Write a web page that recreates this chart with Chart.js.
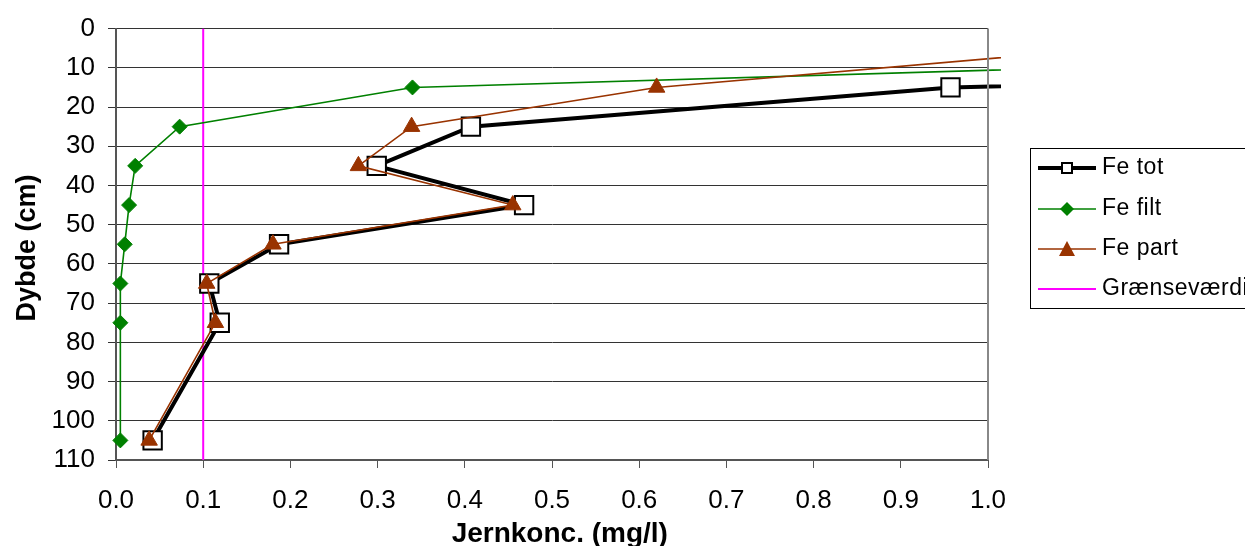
<!DOCTYPE html>
<html>
<head>
<meta charset="utf-8">
<title>Jernkoncentration</title>
<script src="https://cdn.jsdelivr.net/npm/chart.js@4/dist/chart.umd.min.js"></script>
<style>
  html, body { margin: 0; padding: 0; background: #fff; }
  canvas { display: block; }
</style>
</head>
<body>
<canvas id="chart" width="1245" height="546"></canvas>
<script>
// Depth profile (cm) and iron concentrations (mg/l)
const depths = [5, 15, 25, 35, 45, 55, 65, 75, 105];
const feTot  = [2.99, 0.957, 0.407, 0.299, 0.468, 0.187, 0.107, 0.119, 0.042];
const feFilt = [1.85, 0.34, 0.073, 0.022, 0.015, 0.010, 0.005, 0.005, 0.005];
const fePart = [1.14, 0.62, 0.339, 0.278, 0.455, 0.180, 0.104, 0.114, 0.038];

// Limit value line
const limitValue = 0.1;
const limitDepths = [0, 110];

const seriesNames = ['Fe tot', 'Fe filt', 'Fe part', 'Grænseværdi'];

const FONT = "'Liberation Sans', Arial, sans-serif";

function toPoints(xs, ys) {
  return ys.map((y, i) => ({ x: xs[i], y }));
}

// Legend drawn in its own framed box to the right of the plot
const boxedLegend = {
  id: 'boxedLegend',
  afterDraw(chart) {
    const ctx = chart.ctx;
    const left = 1030, top = 148, bottom = 308;
    ctx.save();
    ctx.strokeStyle = '#000';
    ctx.lineWidth = 1;
    ctx.strokeRect(left + 0.5, top + 0.5, 260, bottom - top);

    const rowY = [168, 209, 249, 289];
    chart.data.datasets.forEach((ds, i) => {
      const y = rowY[i];
      ctx.strokeStyle = ds.borderColor;
      ctx.lineWidth = ds.legendLineWidth;
      ctx.beginPath();
      ctx.moveTo(1038, y);
      ctx.lineTo(1096, y);
      ctx.stroke();

      const cx = 1067;
      ctx.fillStyle = ds.pointBackgroundColor;
      ctx.strokeStyle = ds.pointBorderColor;
      ctx.lineWidth = ds.pointBorderWidth;
      ctx.beginPath();
      if (ds.pointStyle === 'rect' && ds.pointRadius > 0) {
        ctx.rect(cx - 5, y - 5, 10, 10);
        ctx.fill();
        ctx.stroke();
      } else if (ds.pointStyle === 'rectRot') {
        ctx.moveTo(cx - 7, y);
        ctx.lineTo(cx, y - 7);
        ctx.lineTo(cx + 7, y);
        ctx.lineTo(cx, y + 7);
        ctx.closePath();
        ctx.fill();
      } else if (ds.pointStyle === 'triangle') {
        ctx.moveTo(cx, y - 8);
        ctx.lineTo(cx + 8, y + 7);
        ctx.lineTo(cx - 8, y + 7);
        ctx.closePath();
        ctx.fill();
      }

      ctx.fillStyle = '#000';
      ctx.font = '23px ' + FONT;
      ctx.letterSpacing = '0.5px';
      ctx.textBaseline = 'middle';
      ctx.textAlign = 'left';
      ctx.fillText(ds.label, 1102, y);
      ctx.letterSpacing = '0px';
    });

    // right edge of the plot frame
    const area = chart.chartArea;
    ctx.strokeStyle = '#888';
    ctx.lineWidth = 2;
    ctx.beginPath();
    ctx.moveTo(area.right, area.top);
    ctx.lineTo(area.right, area.bottom);
    ctx.stroke();
    ctx.restore();
  }
};

const lineClip = { left: 10, top: 10, right: 13, bottom: 10 };

new Chart(document.getElementById('chart'), {
  type: 'scatter',
  data: {
    datasets: [
      {
        label: seriesNames[0],
        data: toPoints(feTot, depths),
        showLine: true,
        borderColor: '#000',
        borderWidth: 4,
        legendLineWidth: 4,
        pointStyle: 'rect',
        pointRadius: 13,
        pointBackgroundColor: '#fff',
        pointBorderColor: '#000',
        pointBorderWidth: 2,
        clip: lineClip,
        order: 3
      },
      {
        label: seriesNames[1],
        data: toPoints(feFilt, depths),
        showLine: true,
        borderColor: '#008000',
        borderWidth: 1.6,
        legendLineWidth: 1.6,
        pointStyle: 'rectRot',
        pointRadius: 7.5,
        pointBackgroundColor: '#008000',
        pointBorderColor: '#008000',
        pointBorderWidth: 1,
        clip: lineClip,
        order: 2
      },
      {
        label: seriesNames[2],
        data: toPoints(fePart, depths),
        showLine: true,
        borderColor: '#993300',
        borderWidth: 1.6,
        legendLineWidth: 1.6,
        pointStyle: 'triangle',
        pointRadius: 9.5,
        pointBackgroundColor: '#993300',
        pointBorderColor: '#993300',
        pointBorderWidth: 1,
        clip: lineClip,
        order: 1
      },
      {
        label: seriesNames[3],
        data: limitDepths.map(d => ({ x: limitValue, y: d })),
        showLine: true,
        borderColor: '#ff00ff',
        borderWidth: 2,
        legendLineWidth: 2,
        pointStyle: 'line',
        pointRadius: 0,
        pointBackgroundColor: '#ff00ff',
        pointBorderColor: '#ff00ff',
        pointBorderWidth: 0,
        order: 4
      }
    ]
  },
  options: {
    responsive: false,
    animation: false,
    events: [],
    layout: { padding: { top: 25, right: 257, bottom: 0, left: 0 } },
    plugins: {
      legend: { display: false },
      tooltip: { enabled: false }
    },
    scales: {
      x: {
        type: 'linear',
        min: 0,
        max: 1.0,
        afterFit(scale) { scale.height = 86; },
        ticks: {
          stepSize: 0.1,
          color: '#000',
          padding: 17,
          font: { family: FONT, size: 26 },
          callback: v => v.toFixed(1)
        },
        grid: { drawOnChartArea: false, drawTicks: true, tickLength: 8, color: '#555', lineWidth: 1 },
        border: { display: true, color: '#555', width: 2 },
        title: {
          display: true,
          text: '  Jernkonc. (mg/l)',
          color: '#000',
          font: { family: FONT, size: 28, weight: 'bold', lineHeight: 1 },
          padding: { top: 0, bottom: -2 }
        }
      },
      y: {
        type: 'linear',
        reverse: true,
        min: 0,
        max: 110,
        afterFit(scale) { scale.width = 116; },
        ticks: {
          stepSize: 10,
          color: '#000',
          padding: 13,
          font: { family: FONT, size: 26 }
        },
        grid: { drawTicks: true, tickLength: 8, color: '#333', lineWidth: 1 },
        border: { display: true, color: '#555', width: 2 },
        title: {
          display: true,
          text: 'Dybde (cm) ',
          color: '#000',
          font: { family: FONT, size: 27, weight: 'bold', lineHeight: 1.2 },
          padding: { top: 11, bottom: 0 }
        }
      }
    }
  },
  plugins: [boxedLegend]
});
</script>
</body>
</html>
